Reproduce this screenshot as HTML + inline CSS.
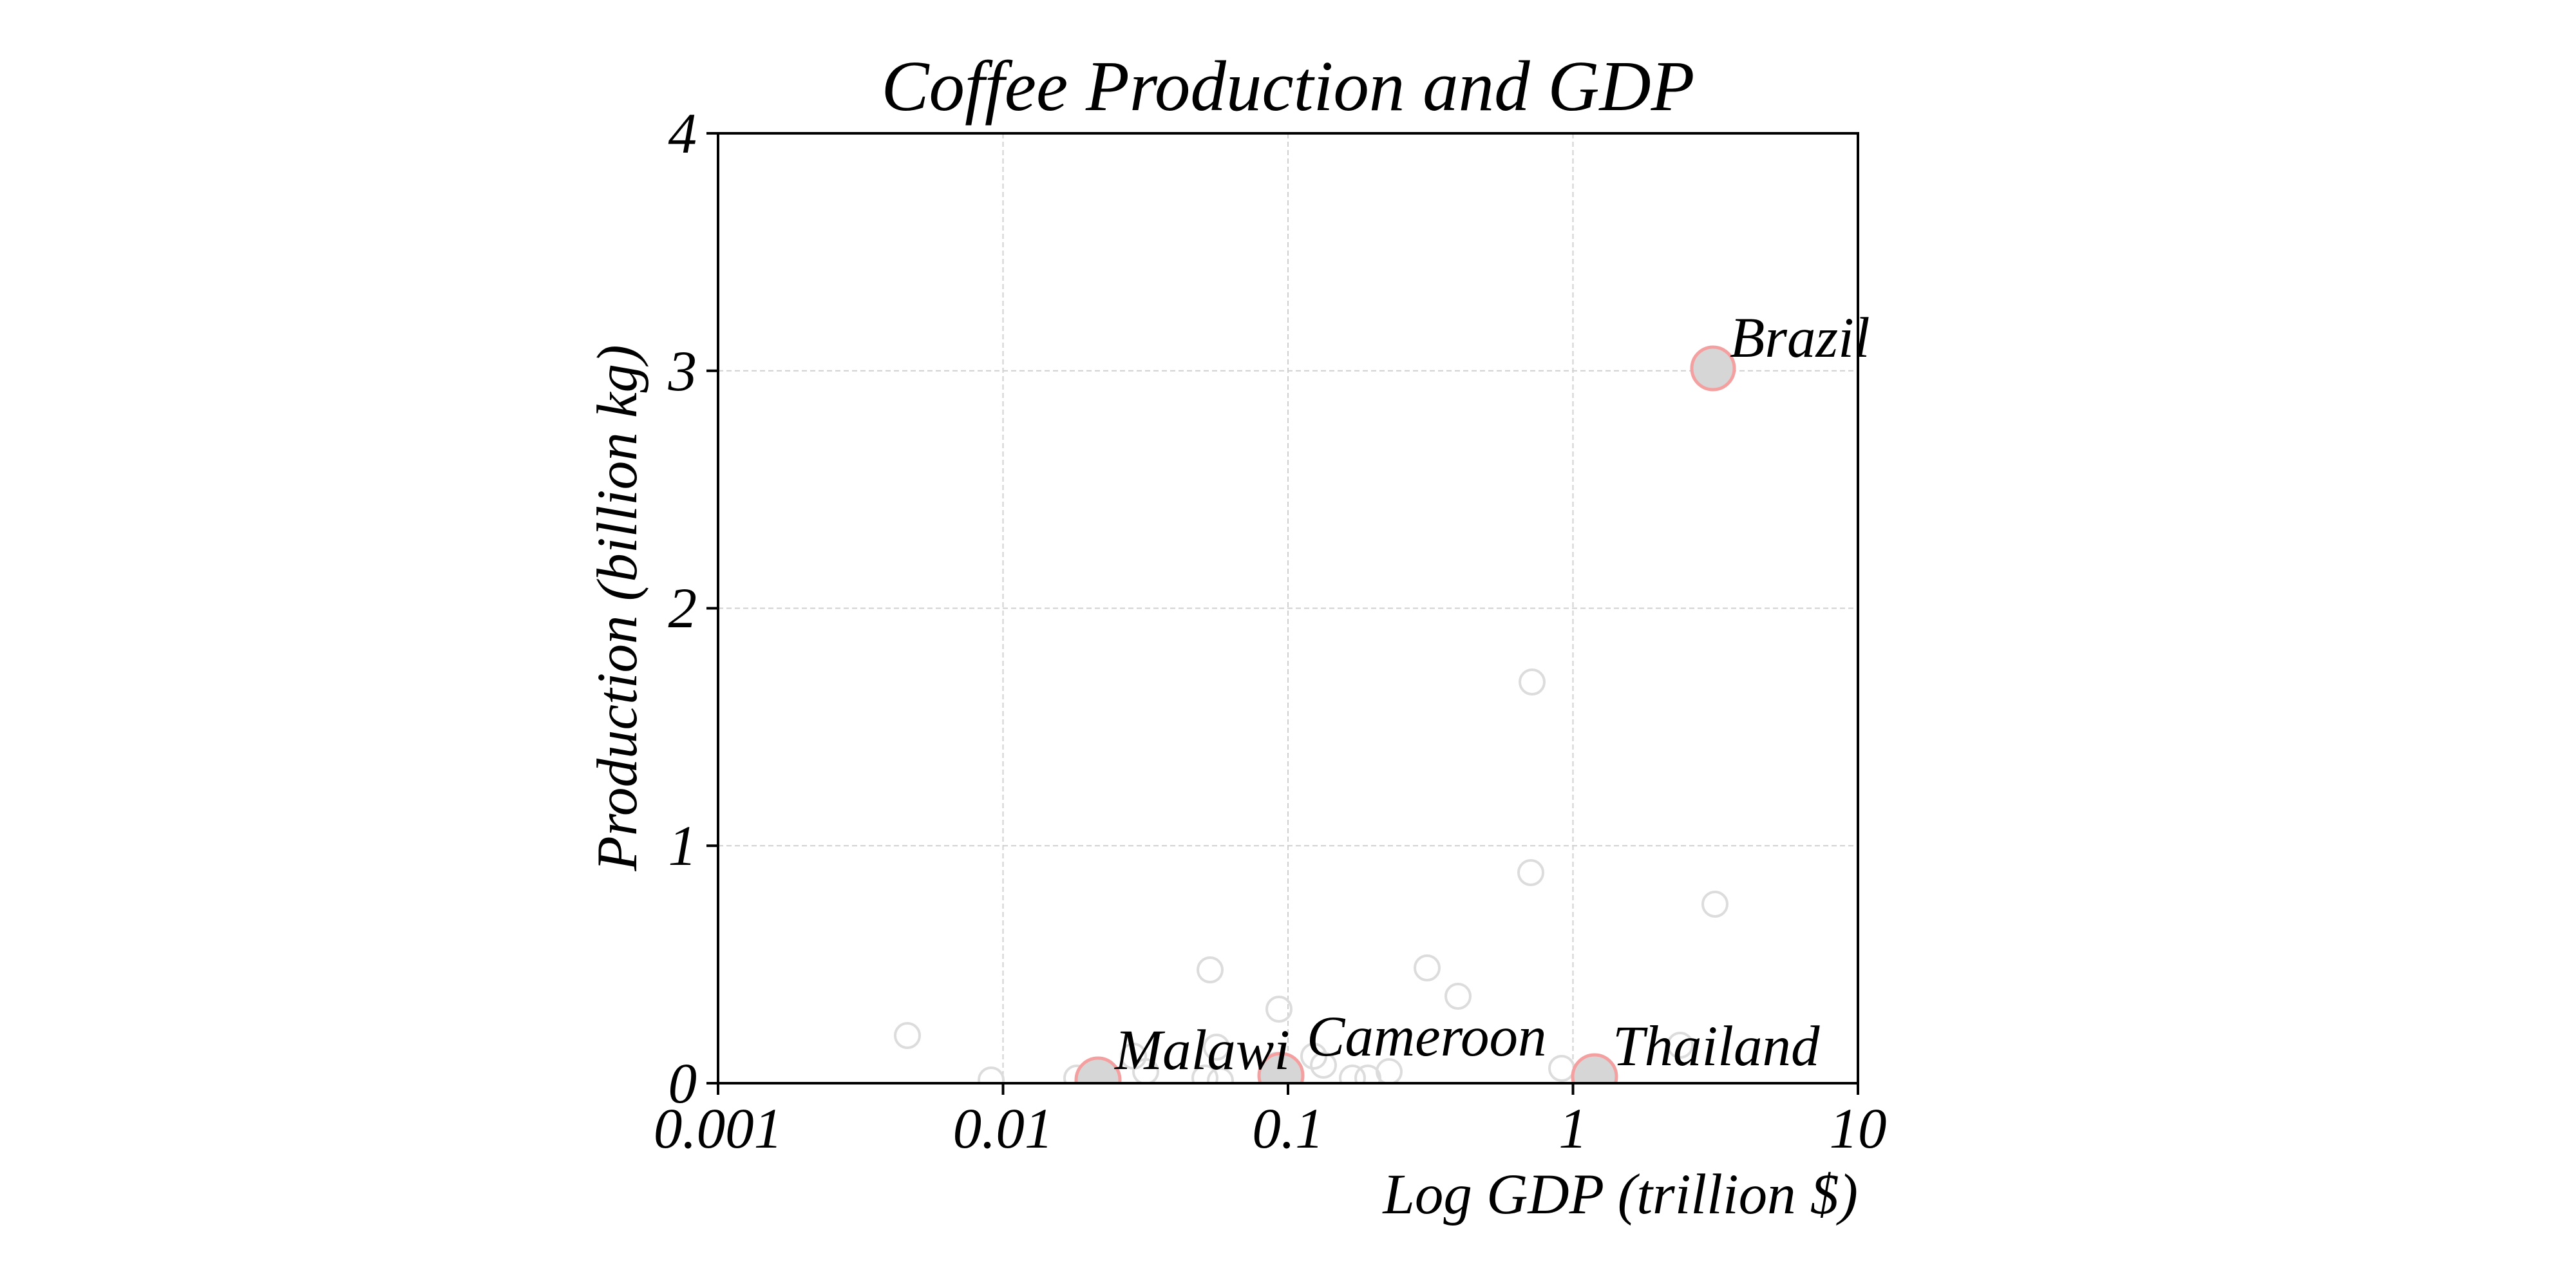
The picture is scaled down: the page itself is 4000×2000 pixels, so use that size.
<!DOCTYPE html>
<html><head><meta charset="utf-8"><style>html,body{margin:0;padding:0;background:#fff}svg{display:block}text{font-family:"Liberation Serif",serif;font-style:italic;fill:#000}</style></head>
<body>
<svg width="4000" height="2000" viewBox="0 0 4000 2000" xmlns="http://www.w3.org/2000/svg">
<defs><clipPath id="c"><rect x="1115" y="207" width="1770" height="1475"/></clipPath></defs>
<g stroke="#d0d0d0" stroke-width="2" stroke-dasharray="8,5">
<line x1="1557.5" y1="207" x2="1557.5" y2="1682"/>
<line x1="2000" y1="207" x2="2000" y2="1682"/>
<line x1="2442.5" y1="207" x2="2442.5" y2="1682"/>
<line x1="1115" y1="1313.25" x2="2885" y2="1313.25"/>
<line x1="1115" y1="944.5" x2="2885" y2="944.5"/>
<line x1="1115" y1="575.75" x2="2885" y2="575.75"/>
</g>
<g clip-path="url(#c)">
<g fill="none" stroke="#dcdcdc" stroke-width="4">
<circle cx="2379" cy="1059" r="19"/><circle cx="2377" cy="1355" r="19"/><circle cx="2663" cy="1404" r="19"/>
<circle cx="1879" cy="1506" r="19"/><circle cx="2216" cy="1503" r="19"/><circle cx="2264" cy="1547" r="19"/>
<circle cx="1986" cy="1567" r="19"/><circle cx="1409" cy="1608" r="19"/><circle cx="1539" cy="1677" r="19"/>
<circle cx="1672" cy="1674" r="19"/><circle cx="1889" cy="1626" r="19"/><circle cx="2055" cy="1654" r="19"/>
<circle cx="2124" cy="1674" r="19"/><circle cx="2157" cy="1664" r="19"/><circle cx="2425" cy="1659" r="19"/>
<circle cx="2609" cy="1623" r="19"/><circle cx="1779" cy="1664" r="19"/><circle cx="1871" cy="1674" r="19"/>
<circle cx="1983" cy="1654" r="19"/><circle cx="1760" cy="1640" r="19"/><circle cx="1895" cy="1678" r="19"/>
<circle cx="2040" cy="1640" r="19"/><circle cx="2100" cy="1674" r="19"/>
</g>
<g fill="#d6d6d6" stroke="#f4a0a0" stroke-width="5">
<circle cx="2660" cy="572" r="33"/>
<circle cx="1705" cy="1677" r="34"/>
<circle cx="1989" cy="1670" r="34"/>
<circle cx="2476" cy="1672" r="34"/>
</g>
</g>
<rect x="1115" y="207" width="1770" height="1475" fill="none" stroke="#000" stroke-width="4"/>
<g stroke="#000" stroke-width="4">
<line x1="1115" y1="1682" x2="1115" y2="1700"/><line x1="1557.5" y1="1682" x2="1557.5" y2="1700"/>
<line x1="2000" y1="1682" x2="2000" y2="1700"/><line x1="2442.5" y1="1682" x2="2442.5" y2="1700"/>
<line x1="2885" y1="1682" x2="2885" y2="1700"/>
<line x1="1097" y1="1682" x2="1115" y2="1682"/><line x1="1097" y1="1313.25" x2="1115" y2="1313.25"/>
<line x1="1097" y1="944.5" x2="1115" y2="944.5"/><line x1="1097" y1="575.75" x2="1115" y2="575.75"/>
<line x1="1097" y1="207" x2="1115" y2="207"/>
</g>
<g font-size="89" text-anchor="middle">
<text x="1115" y="1782">0.001</text><text x="1557.5" y="1782">0.01</text><text x="2000" y="1782">0.1</text>
<text x="2442.5" y="1782">1</text><text x="2885" y="1782">10</text>
</g>
<g font-size="89" text-anchor="end">
<text x="1082" y="1712">0</text><text x="1082" y="1343">1</text><text x="1082" y="974">2</text>
<text x="1082" y="606">3</text><text x="1082" y="237">4</text>
<text x="2885" y="1884">Log GDP (trillion $)</text>
</g>
<text font-size="89" text-anchor="middle" transform="translate(988,944) rotate(-90)">Production (billion kg)</text>
<text font-size="111" text-anchor="middle" x="2000" y="171">Coffee Production and GDP</text>
<g font-size="89">
<text x="2686" y="554">Brazil</text>
<text x="1731" y="1660">Malawi</text>
<text x="2029" y="1639">Cameroon</text>
<text x="2504" y="1654">Thailand</text>
</g>
</svg>
</body></html>
